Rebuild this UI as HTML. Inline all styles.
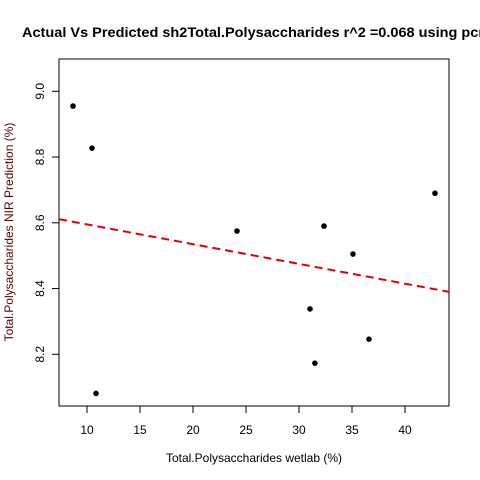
<!DOCTYPE html>
<html><head><meta charset="utf-8"><style>body{margin:0;background:#fff;overflow:hidden}svg{display:block;font-family:"Liberation Sans",Arial,sans-serif}</style></head>
<body>
<svg id="chart" width="480" height="480">
<text x="22" y="37" font-size="14" font-weight="bold" textLength="462" lengthAdjust="spacingAndGlyphs">Actual Vs Predicted sh2Total.Polysaccharides r^2 =0.068 using pcr</text>
<rect x="59" y="59" width="390" height="347" fill="none" stroke="#000"/>
<g id="xt"></g><g id="yt"></g><g id="pts"></g>
<text x="254" y="462" font-size="12" text-anchor="middle">Total.Polysaccharides wetlab (%)</text>
<text transform="translate(13,232) rotate(-90)" font-size="12" text-anchor="middle" fill="#5a0000">Total.Polysaccharides NIR Prediction (%)</text>
</svg>
<script>
const xTicks=[10,15,20,25,30,35,40];
const yTicks=[8.2,8.4,8.6,8.8,9.0];
const actual=[8.68,10.47,10.85,24.15,31.04,31.5,32.36,35.09,36.6,42.83];
const predicted=[8.955,8.827,8.081,8.575,8.338,8.173,8.59,8.505,8.246,8.69];
const fitX=[7.36,44.15];
const fitY=[8.611,8.39];
const X=v=>87+(v-10)*10.6;
const Y=v=>91.3+(9.0-v)*328.75;
const NS='http://www.w3.org/2000/svg';
function mk(t,a,p){const e=document.createElementNS(NS,t);for(const k in a)e.setAttribute(k,a[k]);p.appendChild(e);return e;}
const xt=document.getElementById('xt'),yt=document.getElementById('yt'),pts=document.getElementById('pts');
xTicks.forEach(v=>{
 const l=mk('line',{x1:X(v),x2:X(v),y1:406,y2:413,stroke:'#000'},xt);
 
 
 const t=mk('text',{x:X(v),y:434,'font-size':12,'text-anchor':'middle'},xt);t.textContent=v;
 
 
});
yTicks.forEach(v=>{
 const l=mk('line',{x1:52,x2:59,y1:Y(v),y2:Y(v),stroke:'#000'},yt);
 
 
 const t=mk('text',{transform:`translate(44,${Y(v)}) rotate(-90)`,'font-size':12,'text-anchor':'middle'},yt);t.textContent=v.toFixed(1);
 
 
});
const fl=mk('line',{x1:X(fitX[0]),y1:Y(fitY[0]),x2:X(fitX[1]),y2:Y(fitY[1]),stroke:'#e00000','stroke-width':2,'stroke-dasharray':'8,5'},pts);


actual.forEach((a,i)=>{
 const c=mk('circle',{cx:X(a),cy:Y(predicted[i]),r:2.8,fill:'#000'},pts);
 
 
});
</script>
</body></html>
